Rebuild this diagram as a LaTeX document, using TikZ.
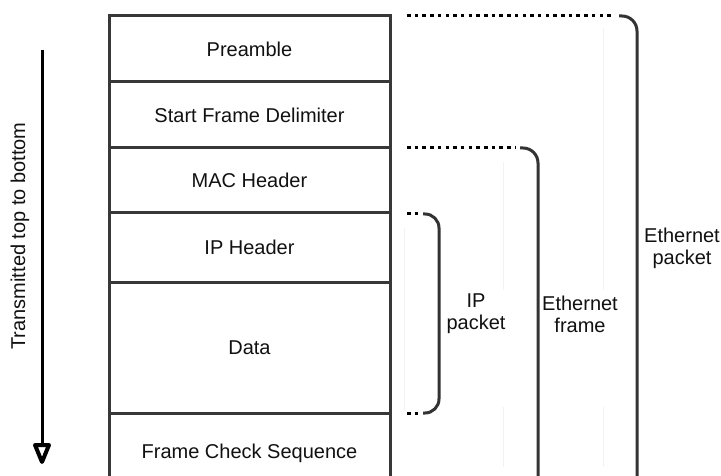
\documentclass[tikz,border=0pt]{standalone}
\usepackage{fontspec}
\setmainfont{Liberation Sans}
\usetikzlibrary{arrows.meta}
\definecolor{boxc}{HTML}{383838}
\definecolor{brc}{HTML}{333333}
\definecolor{txt}{HTML}{111111}
\tikzset{
  row/.style={draw=boxc, line width=3pt, minimum width=281pt, anchor=north west,
    inner sep=0pt, outer sep=0pt, text=txt, font=\fontsize{20}{22}\selectfont},
  lbl/.style={align=center, text=txt, inner sep=0pt, font=\fontsize{20}{22}\selectfont},
  dots/.style={draw=black, line width=3pt, dash pattern=on 3.5pt off 4.2pt},
  brack/.style={draw=brc, line width=3pt, rounded corners=15pt},
  faint/.style={draw=gray!10, line width=0.7pt},
  headtri/.style={draw=black, fill=white, line width=4pt, line join=round}
}
\begin{document}
\begin{tikzpicture}[x=1pt,y=-1pt]
\useasboundingbox (0,0) rectangle (721,476);
\clip (0,0) rectangle (721,476);
\fill[white] (0,0) rectangle (721,476);
% faint guide lines
\draw[faint] (603,28) -- (603,290) (603,407) -- (603,467);
\draw[faint] (503,162) -- (503,290) (503,407) -- (503,467);
\draw[faint] (404,228) -- (404,410);
% rows
\node[row, minimum height=66pt] (pre) at (109,16) {Preamble};
\node[row, minimum height=66pt] (sfd) at (109,82) {Start Frame Delimiter};
\node[row, minimum height=65pt] (mac) at (109,148) {MAC Header};
\node[row, minimum height=69pt] (iph) at (109,213) {IP Header};
\node[row, minimum height=131pt] (data) at (109,282) {Data};
\node[row, minimum height=80pt] (fcs) at (109,413) {Frame Check Sequence};
% transmission arrow
\coordinate (arrS) at (42,50);
\coordinate (arrE) at (42,446);
\draw[line width=3pt] (arrS) -- (arrE);
\draw[headtri] (35,445) -- (49,445) -- (42,462) -- cycle;
\node[lbl, rotate=90] (tx) at (20,236) {Transmitted top to bottom};
% Ethernet packet bracket
\coordinate (ep0) at (407,16);
\coordinate (ep1) at (614,16);
\coordinate (ep2) at (619,16);
\coordinate (ep3) at (637,16);
\coordinate (ep4) at (637,492);
\coordinate (ep5) at (619,492);
\draw[dots] (ep0) -- (ep1);
\draw[brack] (ep2) -- (ep3) -- (ep4) -- (ep5);
\node[lbl] (eplbl) at (682,248) {Ethernet\\packet};
% Ethernet frame bracket
\coordinate (ef0) at (407,148);
\coordinate (ef1) at (516,148);
\coordinate (ef2) at (520,148);
\coordinate (ef3) at (538,148);
\coordinate (ef4) at (538,492);
\coordinate (ef5) at (520,492);
\draw[dots] (ef0) -- (ef1);
\draw[brack] (ef2) -- (ef3) -- (ef4) -- (ef5);
\node[lbl] (eflbl) at (580,314) {Ethernet\\frame};
% IP packet bracket
\coordinate (ip0) at (407,214);
\coordinate (ip1) at (418,214);
\coordinate (ip2) at (423,214);
\coordinate (ip3) at (439,214);
\coordinate (ip4) at (439,413);
\coordinate (ip5) at (423,413);
\coordinate (ip6) at (418,413);
\coordinate (ip7) at (407,413);
\draw[dots] (ip0) -- (ip1);
\draw[dots] (ip7) -- (ip6);
\draw[brack, rounded corners=14pt] (ip2) -- (ip3) -- (ip4) -- (ip5);
\node[lbl] (iplbl) at (476,314) {IP\\packet};
\end{tikzpicture}
\end{document}
